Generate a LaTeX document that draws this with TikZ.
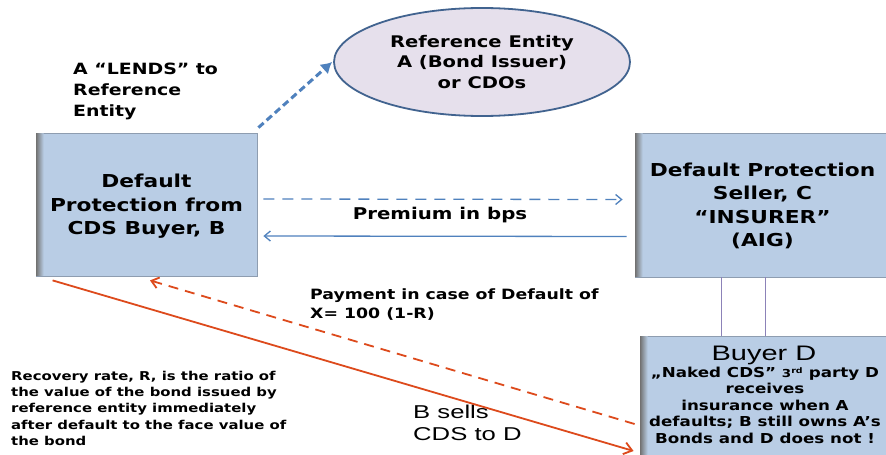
\documentclass[tikz,border=0pt]{standalone}
\usepackage{fontspec}
\usetikzlibrary{arrows.meta,calc,shapes.geometric}
\newfontfamily\vb{DejaVu Sans Bold}[FakeStretch=1.22]
\newfontfamily\ls{Liberation Sans}[FakeStretch=1.38]
\definecolor{boxblue}{HTML}{B9CDE5}
\definecolor{boxedge}{HTML}{8E9DB0}
\definecolor{elfill}{HTML}{E6E0EC}
\definecolor{eledge}{HTML}{41638F}
\definecolor{lineblue}{HTML}{4F81BD}
\definecolor{redline}{HTML}{DD4A1C}
\definecolor{linkpurple}{HTML}{8C82B8}
\tikzset{
  x=1pt,y=-1pt,
  bluebox/.style={draw=boxedge,line width=0.8pt,fill=boxblue,minimum width=#1,inner sep=0pt},
  bigtxt/.style={font=\vb\fontsize{17.8}{23.6}\selectfont,align=center},
  bluearr/.style={draw=lineblue,line width=1.3pt},
  redarr/.style={draw=redline,line width=1.8pt},
  linkline/.style={draw=linkpurple,line width=0.8pt},
}
\newcommand{\leftshade}[1]{%
  \shade[left color=black!55,right color=boxblue] ($(#1.north west)+(0.5,0.5)$) rectangle ($(#1.south west)+(8,-0.5)$);}
\begin{document}
\begin{tikzpicture}
\useasboundingbox (0,0) rectangle (886,455);
\fill[white] (0,0) rectangle (886,455);
% boxes
\node[bluebox=221pt,minimum height=143pt] (B) at (146.5,204.5) {};
\leftshade{B}
\node[bigtxt] (Bt) at ([yshift=-2pt]B.center) {Default\\Protection from\\CDS Buyer, B};
\node[bluebox=255pt,minimum height=144pt] (C) at (762.5,205) {};
\leftshade{C}
\node[bigtxt] (Ct) at ([yshift=-1pt]C.center) {Default Protection\\Seller, C\\“INSURER”\\(AIG)};
\node[bluebox=250pt,minimum height=134pt] (D) at (765,403) {};
\leftshade{D}
\node[font=\ls\fontsize{21}{21}\selectfont,inner sep=0pt,anchor=base] (Dh) at (764,360) {Buyer D};
\node[font=\vb\fontsize{13.7}{16.6}\selectfont,align=center,anchor=north,inner sep=0pt] (Dt) at (765,366.5)
 {„Naked CDS” {\fontsize{11}{11}\selectfont 3\textsuperscript{rd}} party D\\receives\\insurance when A\\defaults; B still owns A’s\\Bonds and D does not !};
% ellipse
\node[ellipse,draw=eledge,line width=1.8pt,fill=elfill,minimum width=296pt,minimum height=108pt] (A) at (482,62) {};
\node[font=\vb\fontsize{16}{20.3}\selectfont,align=center] (At) at (A.center) {Reference Entity\\A (Bond Issuer)\\or CDOs};
% labels
\node[font=\vb\fontsize{15.5}{20.7}\selectfont,align=left,anchor=north west,inner sep=0pt] (lends) at (73,63) {A “LENDS” to\\Reference\\Entity};
\node[font=\vb\fontsize{16.2}{17}\selectfont,inner sep=0pt] (prem) at (440,215) {Premium in bps};
\node[font=\vb\fontsize{14.2}{18.3}\selectfont,align=left,anchor=north west,inner sep=0pt] (pay) at (310,289) {Payment in case of Default of\\X= 100 (1-R)};
\node[font=\vb\fontsize{12.2}{16.25}\selectfont,align=left,anchor=north west,inner sep=0pt] (rec) at (11,371) {Recovery rate, R, is the ratio of\\the value of the bond issued by\\reference entity immediately\\after default to the face value of\\the bond};
\node[font=\ls\fontsize{18.6}{21.6}\selectfont,align=left,anchor=north west,inner sep=0pt] (bs) at (413,405) {B sells\\CDS to D};
% connectors
\draw[draw=lineblue,line width=3pt,dash pattern=on 7pt off 4pt,-{Latex[length=11pt,width=13pt]}]
  ([shift={(1,-5)}]B.north east) -- ([shift={(-1,0)}]A.west);
\draw[bluearr,dash pattern=on 11pt off 8pt,-{Straight Barb[length=6pt,width=10pt]}]
  ([shift={(6,-5.5)}]B.east) -- ([shift={(-12,-5.5)}]C.west);
\draw[bluearr,{Straight Barb[length=6pt,width=10pt]}-]
  ([shift={(6,31.5)}]B.east) -- ([shift={(-8,31.5)}]C.west);
\draw[redarr,-{Straight Barb[length=8pt,width=12pt]}]
  ([shift={(17,4)}]B.south west) -- ([shift={(-6,48)}]D.west);
\draw[redarr,dash pattern=on 10pt off 7pt,-{Straight Barb[length=7pt,width=11pt]}]
  ([shift={(-5,21)}]D.west) -- ([shift={(3.5,4)}]B.south);
\draw[linkline] (721,0 |- C.south) -- (721,0 |- D.north);
\draw[linkline] (765,0 |- C.south) -- (765,0 |- D.north);
\end{tikzpicture}
\end{document}
